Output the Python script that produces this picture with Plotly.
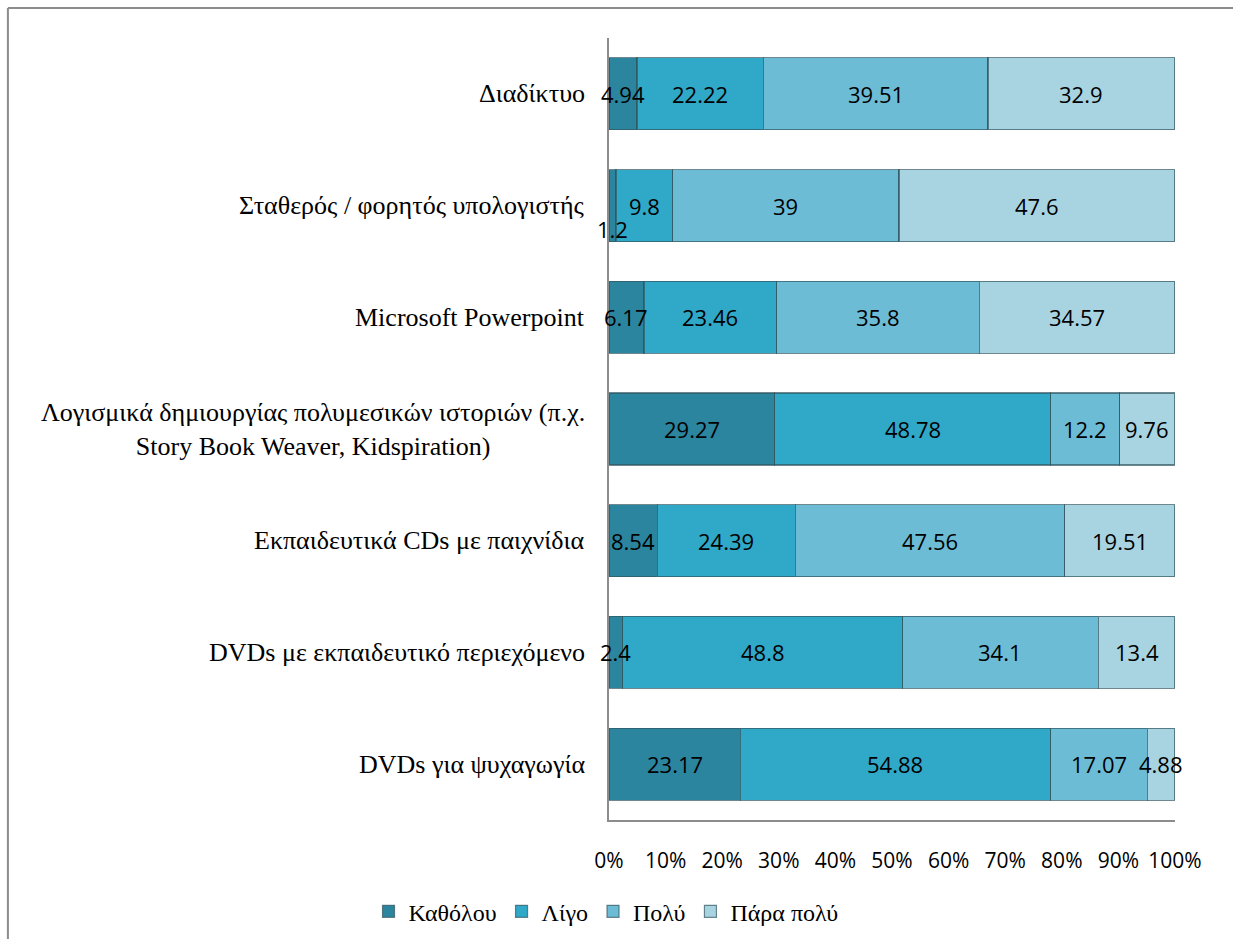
import plotly.graph_objects as go

# Survey items, listed bottom to top as they appear on the axis
categories = [
    "DVDs για ψυχαγωγία",
    "DVDs με εκπαιδευτικό περιεχόμενο",
    "Εκπαιδευτικά CDs με παιχνίδια",
    "Λογισμικά δημιουργίας πολυμεσικών ιστοριών (π.χ.<br>Story Book Weaver, Kidspiration)",
    "Microsoft Powerpoint",
    "Σταθερός / φορητός υπολογιστής",
    "Διαδίκτυο",
]

series_names = ["Καθόλου", "Λίγο", "Πολύ", "Πάρα πολύ"]

katholou = [23.17, 2.4, 8.54, 29.27, 6.17, 1.2, 4.94]
ligo = [54.88, 48.8, 24.39, 48.78, 23.46, 9.8, 22.22]
poly = [17.07, 34.1, 47.56, 12.2, 35.8, 39, 39.51]
para_poly = [4.88, 13.4, 19.51, 9.76, 34.57, 47.6, 32.9]

x_ticks = [0, 10, 20, 30, 40, 50, 60, 70, 80, 90, 100]
x_tick_labels = ["0%", "10%", "20%", "30%", "40%", "50%", "60%", "70%", "80%", "90%", "100%"]

colors = ["#2b859f", "#30a8c8", "#6dbcd5", "#a8d4e2"]
series = [katholou, ligo, poly, para_poly]

fig = go.Figure()
for name, vals, col in zip(series_names, series, colors):
    fig.add_trace(go.Bar(
        y=categories, x=vals, name=name, orientation="h",
        marker=dict(color=col, line=dict(color="rgba(50,85,95,0.7)", width=1.2)),
        hoverinfo="x+y+name",
    ))

fig.update_layout(
    barmode="stack", barnorm="percent", bargap=0.355,
    width=1233, height=939,
    margin=dict(l=609, r=58, t=38, b=119, autoexpand=False),
    paper_bgcolor="white", plot_bgcolor="white",
    showlegend=True,
    legend=dict(orientation="h", xref="container", yref="container",
                x=0.4915, xanchor="center", y=0.029, yanchor="middle",
                font=dict(family="Liberation Serif", size=24, color="black"),
                itemwidth=30, tracegroupgap=0, traceorder="normal"),
    xaxis=dict(range=[0, 100], tickvals=x_ticks, ticktext=x_tick_labels,
               showgrid=False, zeroline=False, showline=True, linecolor="#8c8c8c", linewidth=1.5,
               ticks="", ticklabelstandoff=21, automargin=False,
               tickfont=dict(family="Open Sans", size=21, color="black"), fixedrange=True),
    yaxis=dict(showticklabels=False, showgrid=False, zeroline=False, showline=True,
               linecolor="#8c8c8c", linewidth=1.5, ticks="", fixedrange=True, automargin=False),
)

# Category labels, centered line by line to the left of the axis
for cat in categories:
    fig.add_annotation(x=0, xref="paper", y=cat, yref="y", text=cat, showarrow=False,
                       xanchor="right", xshift=-22, align="center",
                       font=dict(family="Liberation Serif", size=26, color="black"))

# Value labels at the centre of each normalized segment
for i, cat in enumerate(categories):
    total = sum(s[i] for s in series)
    cum = 0.0
    for s in series:
        v = s[i]
        share = v / total * 100
        mid = cum + share / 2
        cum += share
        fig.add_annotation(x=mid, y=cat, text=f"{v:g}", showarrow=False,
                           yshift=-23 if share < 2 else 0,
                           font=dict(family="Open Sans", size=22, color="black"))

# Outer chart frame: top and left edges
frame = dict(color="#8c8c8c", width=2)
fig.add_shape(type="line", xref="paper", yref="paper", x0=-1.062, x1=1.2,
              y0=1.0384, y1=1.0384, line=frame, layer="below")
fig.add_shape(type="line", xref="paper", yref="paper", x0=-1.062, x1=-1.062,
              y0=-0.3, y1=1.0384, line=frame, layer="below")

fig.write_html("out.html")
